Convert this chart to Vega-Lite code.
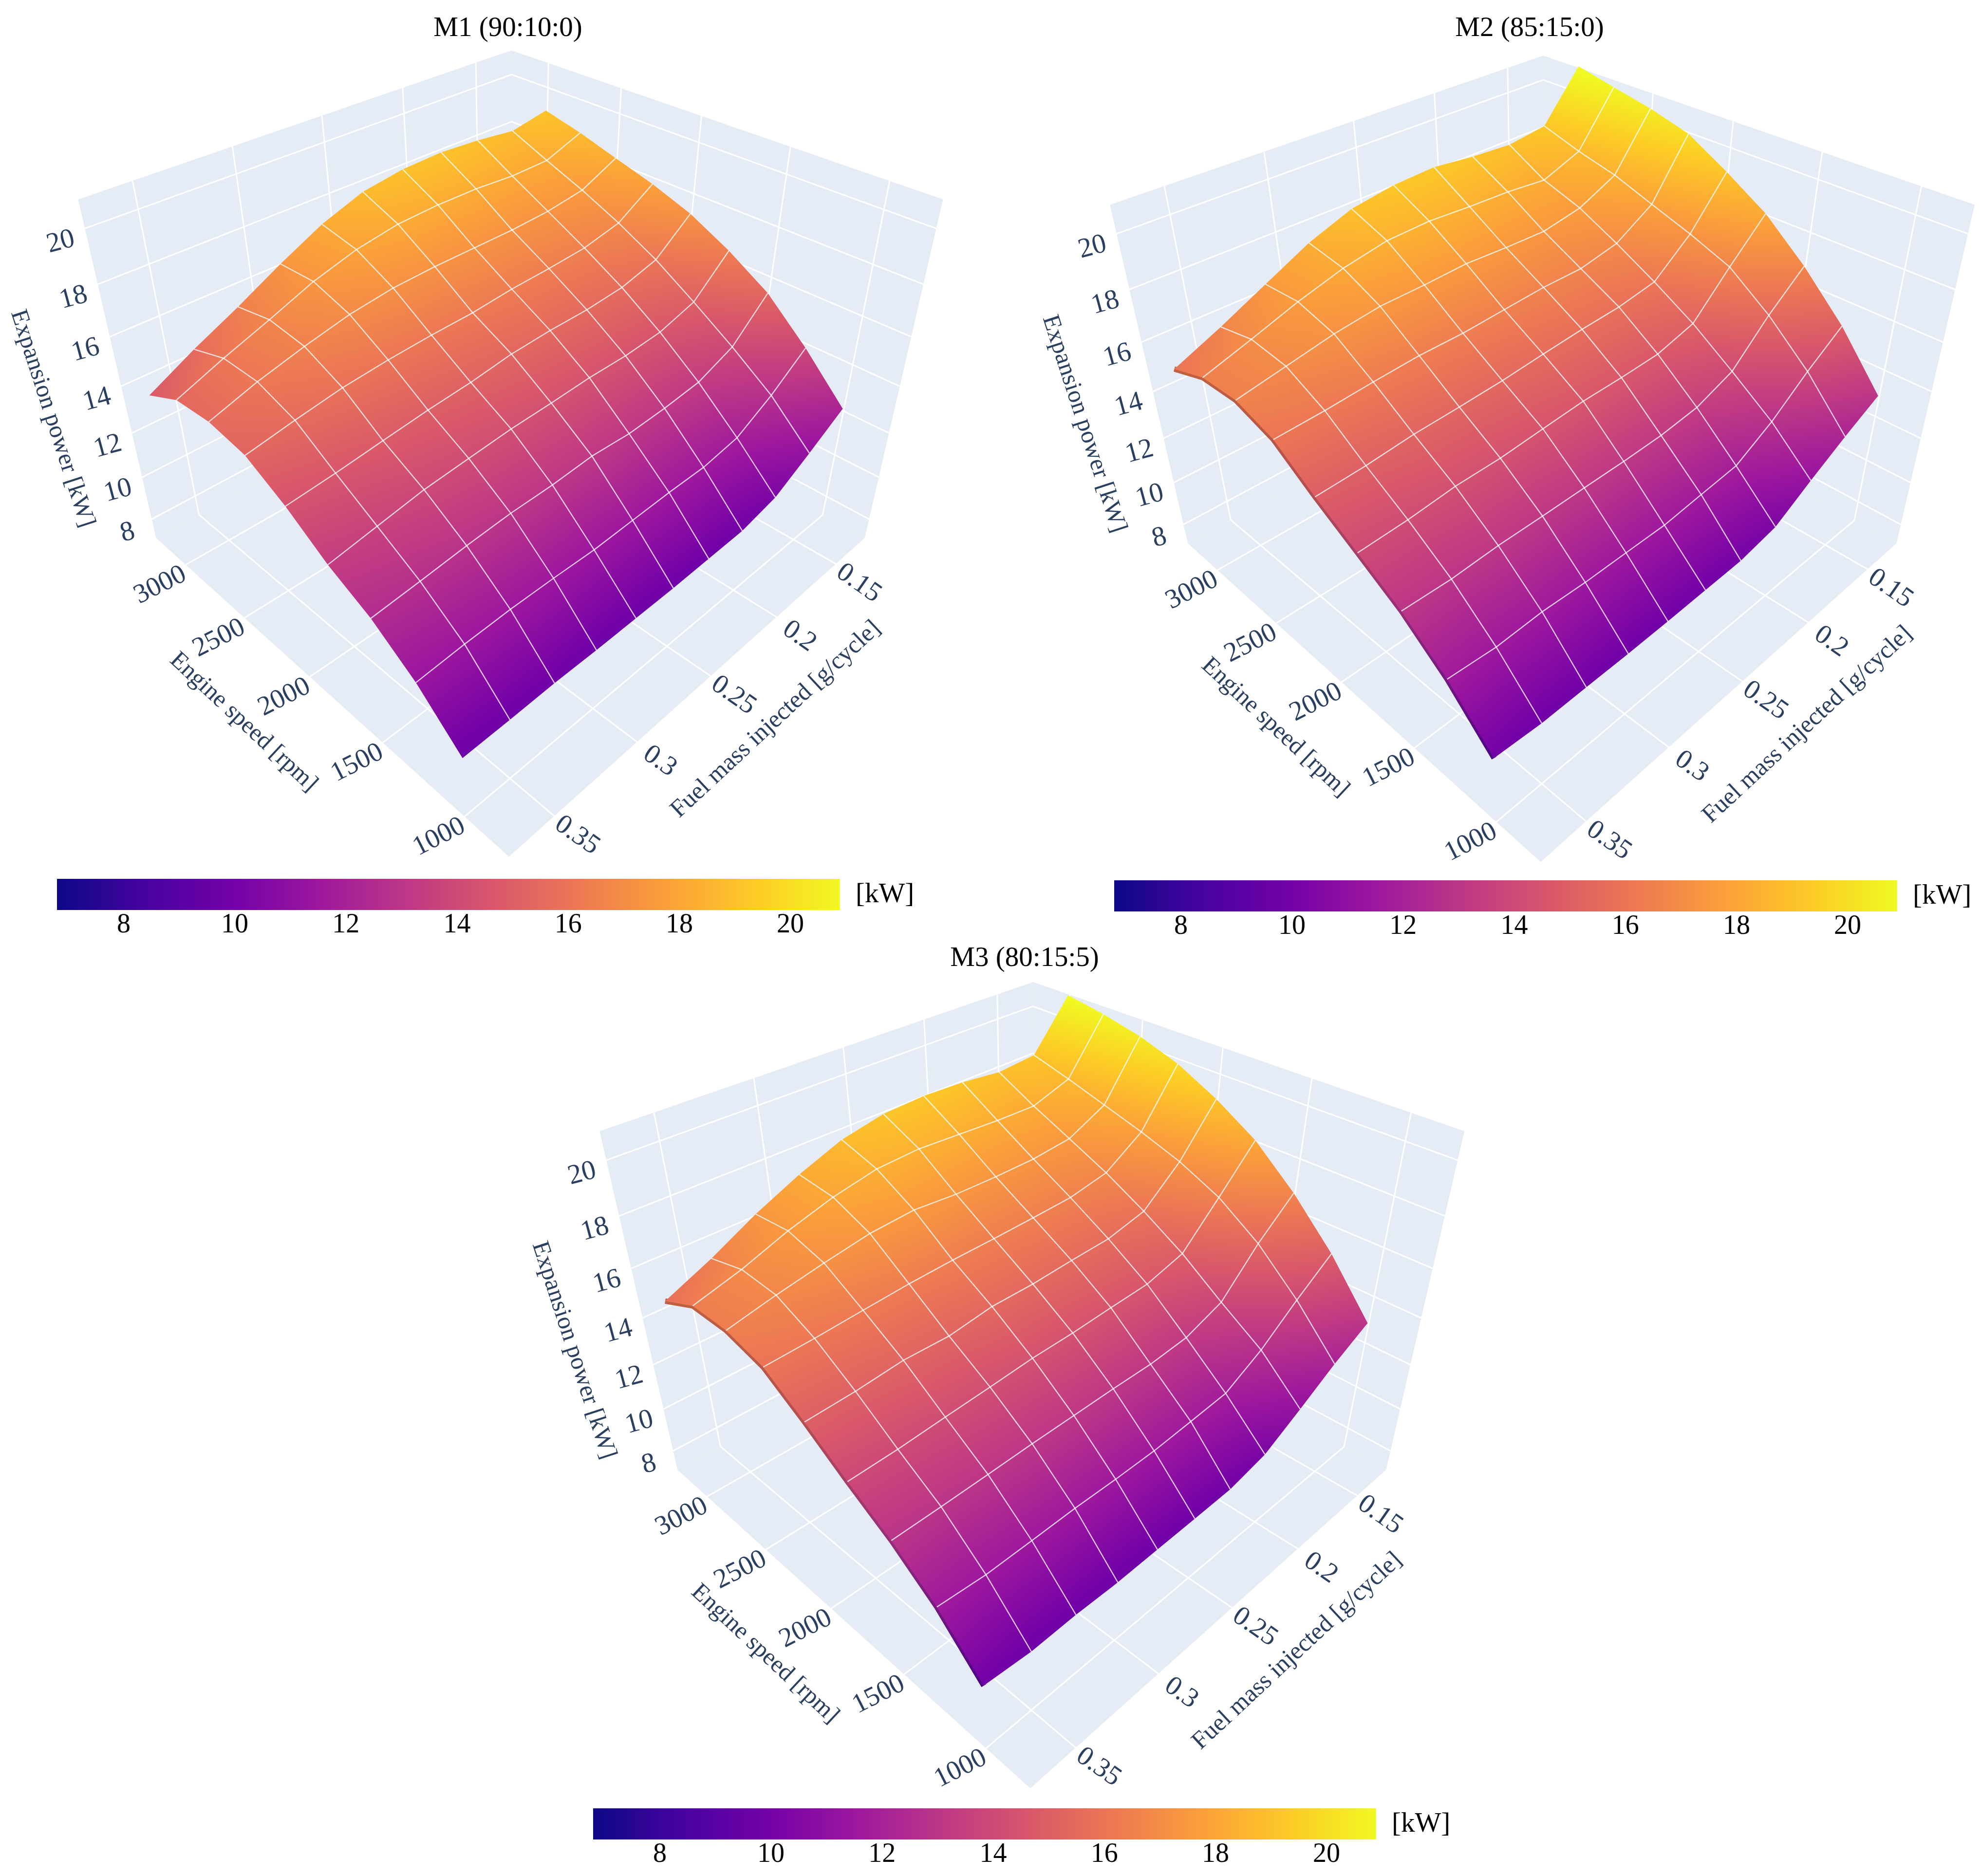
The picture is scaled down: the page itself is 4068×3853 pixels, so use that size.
{"$schema":"https://vega.github.io/schema/vega-lite/v6.json","width":4068,"height":3853,"autosize":{"type":"fit","contains":"padding"},"padding":0,"background":"white","view":{"stroke":null},
"params":[
{"name":"ox","value":{"M1":1046.3,"M2":3165,"M3":2117}},
{"name":"oy","value":{"M1":0,"M2":10.9,"M3":1913.6}},
{"name":"cb0","value":{"M1":117,"M2":2288,"M3":1218}},
{"name":"cby","value":{"M1":1805,"M2":1808,"M3":3714}},
{"name":"tx","value":{"M1":1043,"M2":3141,"M3":2104}},
{"name":"ty","value":{"M1":57,"M2":57,"M3":1967}},
{"name":"plasma","value":[{"offset":0,"color":"#0d0887"},{"offset":0.1111,"color":"#46039f"},{"offset":0.2222,"color":"#7201a8"},{"offset":0.3333,"color":"#9c179e"},{"offset":0.4444,"color":"#bd3786"},{"offset":0.5556,"color":"#d8576b"},{"offset":0.6667,"color":"#ed7953"},{"offset":0.7778,"color":"#fb9f3a"},{"offset":0.8889,"color":"#fdca26"},{"offset":1,"color":"#f0f921"}]}
],
"data":{"values":[
{"kind":"wall","face":"floor","k":0,"fuel":0.375,"rpm":753,"power":7.064},{"kind":"wall","face":"floor","k":1,"fuel":0.12375,"rpm":753,"power":7.064},{"kind":"wall","face":"floor","k":2,"fuel":0.12375,"rpm":3272,"power":7.064},{"kind":"wall","face":"floor","k":3,"fuel":0.375,"rpm":3272,"power":7.064},
{"kind":"wall","face":"left","k":0,"fuel":0.375,"rpm":3272,"power":7.064},{"kind":"wall","face":"left","k":1,"fuel":0.12375,"rpm":3272,"power":7.064},{"kind":"wall","face":"left","k":2,"fuel":0.12375,"rpm":3272,"power":20.994},{"kind":"wall","face":"left","k":3,"fuel":0.375,"rpm":3272,"power":20.994},
{"kind":"wall","face":"right","k":0,"fuel":0.12375,"rpm":753,"power":7.064},{"kind":"wall","face":"right","k":1,"fuel":0.12375,"rpm":3272,"power":7.064},{"kind":"wall","face":"right","k":2,"fuel":0.12375,"rpm":3272,"power":20.994},{"kind":"wall","face":"right","k":3,"fuel":0.12375,"rpm":753,"power":20.994},
{"kind":"grid","face":"z8","k":0,"fuel":0.375,"rpm":3272,"power":8},{"kind":"grid","face":"z8","k":1,"fuel":0.12375,"rpm":3272,"power":8},{"kind":"grid","face":"z8","k":2,"fuel":0.12375,"rpm":753,"power":8},
{"kind":"grid","face":"z10","k":0,"fuel":0.375,"rpm":3272,"power":10},{"kind":"grid","face":"z10","k":1,"fuel":0.12375,"rpm":3272,"power":10},{"kind":"grid","face":"z10","k":2,"fuel":0.12375,"rpm":753,"power":10},
{"kind":"grid","face":"z12","k":0,"fuel":0.375,"rpm":3272,"power":12},{"kind":"grid","face":"z12","k":1,"fuel":0.12375,"rpm":3272,"power":12},{"kind":"grid","face":"z12","k":2,"fuel":0.12375,"rpm":753,"power":12},
{"kind":"grid","face":"z14","k":0,"fuel":0.375,"rpm":3272,"power":14},{"kind":"grid","face":"z14","k":1,"fuel":0.12375,"rpm":3272,"power":14},{"kind":"grid","face":"z14","k":2,"fuel":0.12375,"rpm":753,"power":14},
{"kind":"grid","face":"z16","k":0,"fuel":0.375,"rpm":3272,"power":16},{"kind":"grid","face":"z16","k":1,"fuel":0.12375,"rpm":3272,"power":16},{"kind":"grid","face":"z16","k":2,"fuel":0.12375,"rpm":753,"power":16},
{"kind":"grid","face":"z18","k":0,"fuel":0.375,"rpm":3272,"power":18},{"kind":"grid","face":"z18","k":1,"fuel":0.12375,"rpm":3272,"power":18},{"kind":"grid","face":"z18","k":2,"fuel":0.12375,"rpm":753,"power":18},
{"kind":"grid","face":"z20","k":0,"fuel":0.375,"rpm":3272,"power":20},{"kind":"grid","face":"z20","k":1,"fuel":0.12375,"rpm":3272,"power":20},{"kind":"grid","face":"z20","k":2,"fuel":0.12375,"rpm":753,"power":20},
{"kind":"grid","face":"r1000","k":0,"fuel":0.375,"rpm":1000,"power":7.064},{"kind":"grid","face":"r1000","k":1,"fuel":0.12375,"rpm":1000,"power":7.064},{"kind":"grid","face":"r1000","k":2,"fuel":0.12375,"rpm":1000,"power":20.994},
{"kind":"grid","face":"r1500","k":0,"fuel":0.375,"rpm":1500,"power":7.064},{"kind":"grid","face":"r1500","k":1,"fuel":0.12375,"rpm":1500,"power":7.064},{"kind":"grid","face":"r1500","k":2,"fuel":0.12375,"rpm":1500,"power":20.994},
{"kind":"grid","face":"r2000","k":0,"fuel":0.375,"rpm":2000,"power":7.064},{"kind":"grid","face":"r2000","k":1,"fuel":0.12375,"rpm":2000,"power":7.064},{"kind":"grid","face":"r2000","k":2,"fuel":0.12375,"rpm":2000,"power":20.994},
{"kind":"grid","face":"r2500","k":0,"fuel":0.375,"rpm":2500,"power":7.064},{"kind":"grid","face":"r2500","k":1,"fuel":0.12375,"rpm":2500,"power":7.064},{"kind":"grid","face":"r2500","k":2,"fuel":0.12375,"rpm":2500,"power":20.994},
{"kind":"grid","face":"r3000","k":0,"fuel":0.375,"rpm":3000,"power":7.064},{"kind":"grid","face":"r3000","k":1,"fuel":0.12375,"rpm":3000,"power":7.064},{"kind":"grid","face":"r3000","k":2,"fuel":0.12375,"rpm":3000,"power":20.994},
{"kind":"grid","face":"f15","k":0,"fuel":0.15,"rpm":753,"power":7.064},{"kind":"grid","face":"f15","k":1,"fuel":0.15,"rpm":3272,"power":7.064},{"kind":"grid","face":"f15","k":2,"fuel":0.15,"rpm":3272,"power":20.994},
{"kind":"grid","face":"f20","k":0,"fuel":0.2,"rpm":753,"power":7.064},{"kind":"grid","face":"f20","k":1,"fuel":0.2,"rpm":3272,"power":7.064},{"kind":"grid","face":"f20","k":2,"fuel":0.2,"rpm":3272,"power":20.994},
{"kind":"grid","face":"f25","k":0,"fuel":0.25,"rpm":753,"power":7.064},{"kind":"grid","face":"f25","k":1,"fuel":0.25,"rpm":3272,"power":7.064},{"kind":"grid","face":"f25","k":2,"fuel":0.25,"rpm":3272,"power":20.994},
{"kind":"grid","face":"f30","k":0,"fuel":0.3,"rpm":753,"power":7.064},{"kind":"grid","face":"f30","k":1,"fuel":0.3,"rpm":3272,"power":7.064},{"kind":"grid","face":"f30","k":2,"fuel":0.3,"rpm":3272,"power":20.994},
{"kind":"grid","face":"f35","k":0,"fuel":0.35,"rpm":753,"power":7.064},{"kind":"grid","face":"f35","k":1,"fuel":0.35,"rpm":3272,"power":7.064},{"kind":"grid","face":"f35","k":2,"fuel":0.35,"rpm":3272,"power":20.994},
{"kind":"tr","label":"1000","rpm":1000,"fuel":0.375,"power":7.064},{"kind":"tr","label":"1500","rpm":1500,"fuel":0.375,"power":7.064},{"kind":"tr","label":"2000","rpm":2000,"fuel":0.375,"power":7.064},{"kind":"tr","label":"2500","rpm":2500,"fuel":0.375,"power":7.064},{"kind":"tr","label":"3000","rpm":3000,"fuel":0.375,"power":7.064},
{"kind":"tf","label":"0.15","fuel":0.15,"rpm":753,"power":7.064},{"kind":"tf","label":"0.2","fuel":0.2,"rpm":753,"power":7.064},{"kind":"tf","label":"0.25","fuel":0.25,"rpm":753,"power":7.064},{"kind":"tf","label":"0.3","fuel":0.3,"rpm":753,"power":7.064},{"kind":"tf","label":"0.35","fuel":0.35,"rpm":753,"power":7.064},
{"kind":"tz","label":"8","power":8,"fuel":0.375,"rpm":3272},{"kind":"tz","label":"10","power":10,"fuel":0.375,"rpm":3272},{"kind":"tz","label":"12","power":12,"fuel":0.375,"rpm":3272},{"kind":"tz","label":"14","power":14,"fuel":0.375,"rpm":3272},{"kind":"tz","label":"16","power":16,"fuel":0.375,"rpm":3272},{"kind":"tz","label":"18","power":18,"fuel":0.375,"rpm":3272},{"kind":"tz","label":"20","power":20,"fuel":0.375,"rpm":3272},
{"kind":"ar","label":"Engine speed [rpm]","rpm":2000,"fuel":0.375,"power":7.064},
{"kind":"af","label":"Fuel mass injected [g/cycle]","fuel":0.25,"rpm":753,"power":7.064},
{"kind":"az","label":"Expansion power [kW]","power":14,"fuel":0.375,"rpm":3272},
{"kind":"title","m":"M1","label":"M1 (90:10:0)"},{"kind":"title","m":"M2","label":"M2 (85:15:0)"},{"kind":"title","m":"M3","label":"M3 (80:15:5)"},
{"kind":"cbar","low":6.8,"high":20.89},
{"kind":"cbt","power":8,"label":"8"},{"kind":"cbt","power":10,"label":"10"},{"kind":"cbt","power":12,"label":"12"},{"kind":"cbt","power":14,"label":"14"},{"kind":"cbt","power":16,"label":"16"},{"kind":"cbt","power":18,"label":"18"},{"kind":"cbt","power":20,"label":"20"},
{"kind":"unit","label":"[kW]"},
{"m":"M1","rpm":1000,"fuel":0.375,"power":9.74},{"m":"M1","rpm":1000,"fuel":0.35,"power":9.75},{"m":"M1","rpm":1000,"fuel":0.325,"power":9.79},{"m":"M1","rpm":1000,"fuel":0.3,"power":9.76},{"m":"M1","rpm":1000,"fuel":0.275,"power":9.77},{"m":"M1","rpm":1000,"fuel":0.25,"power":9.78},{"m":"M1","rpm":1000,"fuel":0.225,"power":9.83},{"m":"M1","rpm":1000,"fuel":0.2,"power":9.88},{"m":"M1","rpm":1000,"fuel":0.175,"power":10.25},{"m":"M1","rpm":1000,"fuel":0.15,"power":11.17},{"m":"M1","rpm":1000,"fuel":0.125,"power":12.15},
{"m":"M1","rpm":1250,"fuel":0.375,"power":11.34},{"m":"M1","rpm":1250,"fuel":0.35,"power":11.46},{"m":"M1","rpm":1250,"fuel":0.325,"power":11.52},{"m":"M1","rpm":1250,"fuel":0.3,"power":11.51},{"m":"M1","rpm":1250,"fuel":0.275,"power":11.46},{"m":"M1","rpm":1250,"fuel":0.25,"power":11.53},{"m":"M1","rpm":1250,"fuel":0.225,"power":11.59},{"m":"M1","rpm":1250,"fuel":0.2,"power":11.6},{"m":"M1","rpm":1250,"fuel":0.175,"power":11.86},{"m":"M1","rpm":1250,"fuel":0.15,"power":12.74},{"m":"M1","rpm":1250,"fuel":0.125,"power":13.88},
{"m":"M1","rpm":1500,"fuel":0.375,"power":12.52},{"m":"M1","rpm":1500,"fuel":0.35,"power":12.68},{"m":"M1","rpm":1500,"fuel":0.325,"power":12.86},{"m":"M1","rpm":1500,"fuel":0.3,"power":12.99},{"m":"M1","rpm":1500,"fuel":0.275,"power":13.02},{"m":"M1","rpm":1500,"fuel":0.25,"power":13.14},{"m":"M1","rpm":1500,"fuel":0.225,"power":13.05},{"m":"M1","rpm":1500,"fuel":0.2,"power":13.14},{"m":"M1","rpm":1500,"fuel":0.175,"power":13.31},{"m":"M1","rpm":1500,"fuel":0.15,"power":13.93},{"m":"M1","rpm":1500,"fuel":0.125,"power":15.38},
{"m":"M1","rpm":1750,"fuel":0.375,"power":13.34},{"m":"M1","rpm":1750,"fuel":0.35,"power":13.64},{"m":"M1","rpm":1750,"fuel":0.325,"power":13.94},{"m":"M1","rpm":1750,"fuel":0.3,"power":14.1},{"m":"M1","rpm":1750,"fuel":0.275,"power":14.25},{"m":"M1","rpm":1750,"fuel":0.25,"power":14.32},{"m":"M1","rpm":1750,"fuel":0.225,"power":14.42},{"m":"M1","rpm":1750,"fuel":0.2,"power":14.43},{"m":"M1","rpm":1750,"fuel":0.175,"power":14.56},{"m":"M1","rpm":1750,"fuel":0.15,"power":15.01},{"m":"M1","rpm":1750,"fuel":0.125,"power":16.39},
{"m":"M1","rpm":2000,"fuel":0.375,"power":14.42},{"m":"M1","rpm":2000,"fuel":0.35,"power":14.59},{"m":"M1","rpm":2000,"fuel":0.325,"power":14.8},{"m":"M1","rpm":2000,"fuel":0.3,"power":15},{"m":"M1","rpm":2000,"fuel":0.275,"power":15.15},{"m":"M1","rpm":2000,"fuel":0.25,"power":15.38},{"m":"M1","rpm":2000,"fuel":0.225,"power":15.47},{"m":"M1","rpm":2000,"fuel":0.2,"power":15.49},{"m":"M1","rpm":2000,"fuel":0.175,"power":15.62},{"m":"M1","rpm":2000,"fuel":0.15,"power":16.02},{"m":"M1","rpm":2000,"fuel":0.125,"power":17.22},
{"m":"M1","rpm":2250,"fuel":0.375,"power":15.27},{"m":"M1","rpm":2250,"fuel":0.35,"power":15.59},{"m":"M1","rpm":2250,"fuel":0.325,"power":15.87},{"m":"M1","rpm":2250,"fuel":0.3,"power":16.03},{"m":"M1","rpm":2250,"fuel":0.275,"power":16.13},{"m":"M1","rpm":2250,"fuel":0.25,"power":16.18},{"m":"M1","rpm":2250,"fuel":0.225,"power":16.33},{"m":"M1","rpm":2250,"fuel":0.2,"power":16.4},{"m":"M1","rpm":2250,"fuel":0.175,"power":16.51},{"m":"M1","rpm":2250,"fuel":0.15,"power":16.84},{"m":"M1","rpm":2250,"fuel":0.125,"power":17.79},
{"m":"M1","rpm":2500,"fuel":0.375,"power":15.53},{"m":"M1","rpm":2500,"fuel":0.35,"power":16.1},{"m":"M1","rpm":2500,"fuel":0.325,"power":16.55},{"m":"M1","rpm":2500,"fuel":0.3,"power":16.93},{"m":"M1","rpm":2500,"fuel":0.275,"power":17.15},{"m":"M1","rpm":2500,"fuel":0.25,"power":17.22},{"m":"M1","rpm":2500,"fuel":0.225,"power":17.23},{"m":"M1","rpm":2500,"fuel":0.2,"power":17.24},{"m":"M1","rpm":2500,"fuel":0.175,"power":17.32},{"m":"M1","rpm":2500,"fuel":0.15,"power":17.54},{"m":"M1","rpm":2500,"fuel":0.125,"power":18.24},
{"m":"M1","rpm":2750,"fuel":0.375,"power":15.4},{"m":"M1","rpm":2750,"fuel":0.35,"power":16.1},{"m":"M1","rpm":2750,"fuel":0.325,"power":16.73},{"m":"M1","rpm":2750,"fuel":0.3,"power":17.4},{"m":"M1","rpm":2750,"fuel":0.275,"power":17.88},{"m":"M1","rpm":2750,"fuel":0.25,"power":18.16},{"m":"M1","rpm":2750,"fuel":0.225,"power":18.24},{"m":"M1","rpm":2750,"fuel":0.2,"power":18.23},{"m":"M1","rpm":2750,"fuel":0.175,"power":18.12},{"m":"M1","rpm":2750,"fuel":0.15,"power":18.15},{"m":"M1","rpm":2750,"fuel":0.125,"power":18.71},
{"m":"M1","rpm":3000,"fuel":0.375,"power":14.64},{"m":"M1","rpm":3000,"fuel":0.35,"power":15.58},{"m":"M1","rpm":3000,"fuel":0.325,"power":16.42},{"m":"M1","rpm":3000,"fuel":0.3,"power":17.33},{"m":"M1","rpm":3000,"fuel":0.275,"power":18.16},{"m":"M1","rpm":3000,"fuel":0.25,"power":18.75},{"m":"M1","rpm":3000,"fuel":0.225,"power":19},{"m":"M1","rpm":3000,"fuel":0.2,"power":19.07},{"m":"M1","rpm":3000,"fuel":0.175,"power":18.97},{"m":"M1","rpm":3000,"fuel":0.15,"power":18.79},{"m":"M1","rpm":3000,"fuel":0.125,"power":19.09},
{"m":"M2","rpm":1000,"fuel":0.375,"power":9.97},{"m":"M2","rpm":1000,"fuel":0.35,"power":9.83},{"m":"M2","rpm":1000,"fuel":0.325,"power":9.84},{"m":"M2","rpm":1000,"fuel":0.3,"power":9.84},{"m":"M2","rpm":1000,"fuel":0.275,"power":9.87},{"m":"M2","rpm":1000,"fuel":0.25,"power":9.93},{"m":"M2","rpm":1000,"fuel":0.225,"power":9.98},{"m":"M2","rpm":1000,"fuel":0.2,"power":10.3},{"m":"M2","rpm":1000,"fuel":0.175,"power":11.25},{"m":"M2","rpm":1000,"fuel":0.15,"power":12.14},{"m":"M2","rpm":1000,"fuel":0.125,"power":12.95},
{"m":"M2","rpm":1250,"fuel":0.375,"power":11.7},{"m":"M2","rpm":1250,"fuel":0.35,"power":11.56},{"m":"M2","rpm":1250,"fuel":0.325,"power":11.64},{"m":"M2","rpm":1250,"fuel":0.3,"power":11.56},{"m":"M2","rpm":1250,"fuel":0.275,"power":11.56},{"m":"M2","rpm":1250,"fuel":0.25,"power":11.55},{"m":"M2","rpm":1250,"fuel":0.225,"power":11.73},{"m":"M2","rpm":1250,"fuel":0.2,"power":11.9},{"m":"M2","rpm":1250,"fuel":0.175,"power":12.79},{"m":"M2","rpm":1250,"fuel":0.15,"power":13.99},{"m":"M2","rpm":1250,"fuel":0.125,"power":15.03},
{"m":"M2","rpm":1500,"fuel":0.375,"power":13.02},{"m":"M2","rpm":1500,"fuel":0.35,"power":12.98},{"m":"M2","rpm":1500,"fuel":0.325,"power":13.08},{"m":"M2","rpm":1500,"fuel":0.3,"power":13.09},{"m":"M2","rpm":1500,"fuel":0.275,"power":13.12},{"m":"M2","rpm":1500,"fuel":0.25,"power":13.14},{"m":"M2","rpm":1500,"fuel":0.225,"power":13.2},{"m":"M2","rpm":1500,"fuel":0.2,"power":13.4},{"m":"M2","rpm":1500,"fuel":0.175,"power":14},{"m":"M2","rpm":1500,"fuel":0.15,"power":15.48},{"m":"M2","rpm":1500,"fuel":0.125,"power":16.7},
{"m":"M2","rpm":1750,"fuel":0.375,"power":14.01},{"m":"M2","rpm":1750,"fuel":0.35,"power":14.1},{"m":"M2","rpm":1750,"fuel":0.325,"power":14.28},{"m":"M2","rpm":1750,"fuel":0.3,"power":14.32},{"m":"M2","rpm":1750,"fuel":0.275,"power":14.47},{"m":"M2","rpm":1750,"fuel":0.25,"power":14.61},{"m":"M2","rpm":1750,"fuel":0.225,"power":14.64},{"m":"M2","rpm":1750,"fuel":0.2,"power":14.72},{"m":"M2","rpm":1750,"fuel":0.175,"power":15.14},{"m":"M2","rpm":1750,"fuel":0.15,"power":16.67},{"m":"M2","rpm":1750,"fuel":0.125,"power":18.1},
{"m":"M2","rpm":2000,"fuel":0.375,"power":14.98},{"m":"M2","rpm":2000,"fuel":0.35,"power":15.08},{"m":"M2","rpm":2000,"fuel":0.325,"power":15.25},{"m":"M2","rpm":2000,"fuel":0.3,"power":15.33},{"m":"M2","rpm":2000,"fuel":0.275,"power":15.43},{"m":"M2","rpm":2000,"fuel":0.25,"power":15.59},{"m":"M2","rpm":2000,"fuel":0.225,"power":15.73},{"m":"M2","rpm":2000,"fuel":0.2,"power":15.82},{"m":"M2","rpm":2000,"fuel":0.175,"power":16.07},{"m":"M2","rpm":2000,"fuel":0.15,"power":17.29},{"m":"M2","rpm":2000,"fuel":0.125,"power":19.1},
{"m":"M2","rpm":2250,"fuel":0.375,"power":16.06},{"m":"M2","rpm":2250,"fuel":0.35,"power":16.15},{"m":"M2","rpm":2250,"fuel":0.325,"power":16.29},{"m":"M2","rpm":2250,"fuel":0.3,"power":16.4},{"m":"M2","rpm":2250,"fuel":0.275,"power":16.41},{"m":"M2","rpm":2250,"fuel":0.25,"power":16.51},{"m":"M2","rpm":2250,"fuel":0.225,"power":16.61},{"m":"M2","rpm":2250,"fuel":0.2,"power":16.61},{"m":"M2","rpm":2250,"fuel":0.175,"power":16.91},{"m":"M2","rpm":2250,"fuel":0.15,"power":17.82},{"m":"M2","rpm":2250,"fuel":0.125,"power":20},
{"m":"M2","rpm":2500,"fuel":0.375,"power":16.54},{"m":"M2","rpm":2500,"fuel":0.35,"power":16.88},{"m":"M2","rpm":2500,"fuel":0.325,"power":17.22},{"m":"M2","rpm":2500,"fuel":0.3,"power":17.44},{"m":"M2","rpm":2500,"fuel":0.275,"power":17.47},{"m":"M2","rpm":2500,"fuel":0.25,"power":17.54},{"m":"M2","rpm":2500,"fuel":0.225,"power":17.45},{"m":"M2","rpm":2500,"fuel":0.2,"power":17.4},{"m":"M2","rpm":2500,"fuel":0.175,"power":17.67},{"m":"M2","rpm":2500,"fuel":0.15,"power":18.37},{"m":"M2","rpm":2500,"fuel":0.125,"power":20.44},
{"m":"M2","rpm":2750,"fuel":0.375,"power":16.46},{"m":"M2","rpm":2750,"fuel":0.35,"power":17.02},{"m":"M2","rpm":2750,"fuel":0.325,"power":17.61},{"m":"M2","rpm":2750,"fuel":0.3,"power":18.1},{"m":"M2","rpm":2750,"fuel":0.275,"power":18.42},{"m":"M2","rpm":2750,"fuel":0.25,"power":18.48},{"m":"M2","rpm":2750,"fuel":0.225,"power":18.38},{"m":"M2","rpm":2750,"fuel":0.2,"power":18.32},{"m":"M2","rpm":2750,"fuel":0.175,"power":18.17},{"m":"M2","rpm":2750,"fuel":0.15,"power":18.74},{"m":"M2","rpm":2750,"fuel":0.125,"power":20.76},
{"m":"M2","rpm":3000,"fuel":0.375,"power":15.89},{"m":"M2","rpm":3000,"fuel":0.35,"power":16.66},{"m":"M2","rpm":3000,"fuel":0.325,"power":17.5},{"m":"M2","rpm":3000,"fuel":0.3,"power":18.34},{"m":"M2","rpm":3000,"fuel":0.275,"power":18.95},{"m":"M2","rpm":3000,"fuel":0.25,"power":19.21},{"m":"M2","rpm":3000,"fuel":0.225,"power":19.29},{"m":"M2","rpm":3000,"fuel":0.2,"power":19.11},{"m":"M2","rpm":3000,"fuel":0.175,"power":19.01},{"m":"M2","rpm":3000,"fuel":0.15,"power":19.21},{"m":"M2","rpm":3000,"fuel":0.125,"power":21.1},
{"m":"M3","rpm":1000,"fuel":0.375,"power":9.92},{"m":"M3","rpm":1000,"fuel":0.35,"power":9.75},{"m":"M3","rpm":1000,"fuel":0.325,"power":9.79},{"m":"M3","rpm":1000,"fuel":0.3,"power":9.74},{"m":"M3","rpm":1000,"fuel":0.275,"power":9.79},{"m":"M3","rpm":1000,"fuel":0.25,"power":9.83},{"m":"M3","rpm":1000,"fuel":0.225,"power":9.88},{"m":"M3","rpm":1000,"fuel":0.2,"power":10.25},{"m":"M3","rpm":1000,"fuel":0.175,"power":11.15},{"m":"M3","rpm":1000,"fuel":0.15,"power":12.1},{"m":"M3","rpm":1000,"fuel":0.125,"power":12.91},
{"m":"M3","rpm":1250,"fuel":0.375,"power":11.64},{"m":"M3","rpm":1250,"fuel":0.35,"power":11.51},{"m":"M3","rpm":1250,"fuel":0.325,"power":11.54},{"m":"M3","rpm":1250,"fuel":0.3,"power":11.58},{"m":"M3","rpm":1250,"fuel":0.275,"power":11.56},{"m":"M3","rpm":1250,"fuel":0.25,"power":11.58},{"m":"M3","rpm":1250,"fuel":0.225,"power":11.71},{"m":"M3","rpm":1250,"fuel":0.2,"power":11.85},{"m":"M3","rpm":1250,"fuel":0.175,"power":12.71},{"m":"M3","rpm":1250,"fuel":0.15,"power":13.9},{"m":"M3","rpm":1250,"fuel":0.125,"power":14.98},
{"m":"M3","rpm":1500,"fuel":0.375,"power":12.9},{"m":"M3","rpm":1500,"fuel":0.35,"power":12.93},{"m":"M3","rpm":1500,"fuel":0.325,"power":12.98},{"m":"M3","rpm":1500,"fuel":0.3,"power":13.04},{"m":"M3","rpm":1500,"fuel":0.275,"power":13.07},{"m":"M3","rpm":1500,"fuel":0.25,"power":13.1},{"m":"M3","rpm":1500,"fuel":0.225,"power":13.1},{"m":"M3","rpm":1500,"fuel":0.2,"power":13.24},{"m":"M3","rpm":1500,"fuel":0.175,"power":13.81},{"m":"M3","rpm":1500,"fuel":0.15,"power":15.4},{"m":"M3","rpm":1500,"fuel":0.125,"power":16.68},
{"m":"M3","rpm":1750,"fuel":0.375,"power":13.92},{"m":"M3","rpm":1750,"fuel":0.35,"power":13.98},{"m":"M3","rpm":1750,"fuel":0.325,"power":14.11},{"m":"M3","rpm":1750,"fuel":0.3,"power":14.22},{"m":"M3","rpm":1750,"fuel":0.275,"power":14.35},{"m":"M3","rpm":1750,"fuel":0.25,"power":14.39},{"m":"M3","rpm":1750,"fuel":0.225,"power":14.49},{"m":"M3","rpm":1750,"fuel":0.2,"power":14.57},{"m":"M3","rpm":1750,"fuel":0.175,"power":14.99},{"m":"M3","rpm":1750,"fuel":0.15,"power":16.51},{"m":"M3","rpm":1750,"fuel":0.125,"power":18.09},
{"m":"M3","rpm":2000,"fuel":0.375,"power":15.03},{"m":"M3","rpm":2000,"fuel":0.35,"power":15.11},{"m":"M3","rpm":2000,"fuel":0.325,"power":15.27},{"m":"M3","rpm":2000,"fuel":0.3,"power":15.23},{"m":"M3","rpm":2000,"fuel":0.275,"power":15.45},{"m":"M3","rpm":2000,"fuel":0.25,"power":15.45},{"m":"M3","rpm":2000,"fuel":0.225,"power":15.54},{"m":"M3","rpm":2000,"fuel":0.2,"power":15.6},{"m":"M3","rpm":2000,"fuel":0.175,"power":15.95},{"m":"M3","rpm":2000,"fuel":0.15,"power":17.24},{"m":"M3","rpm":2000,"fuel":0.125,"power":19.07},
{"m":"M3","rpm":2250,"fuel":0.375,"power":16.02},{"m":"M3","rpm":2250,"fuel":0.35,"power":16.1},{"m":"M3","rpm":2250,"fuel":0.325,"power":16.22},{"m":"M3","rpm":2250,"fuel":0.3,"power":16.33},{"m":"M3","rpm":2250,"fuel":0.275,"power":16.39},{"m":"M3","rpm":2250,"fuel":0.25,"power":16.41},{"m":"M3","rpm":2250,"fuel":0.225,"power":16.45},{"m":"M3","rpm":2250,"fuel":0.2,"power":16.51},{"m":"M3","rpm":2250,"fuel":0.175,"power":16.79},{"m":"M3","rpm":2250,"fuel":0.15,"power":17.77},{"m":"M3","rpm":2250,"fuel":0.125,"power":19.86},
{"m":"M3","rpm":2500,"fuel":0.375,"power":16.4},{"m":"M3","rpm":2500,"fuel":0.35,"power":16.79},{"m":"M3","rpm":2500,"fuel":0.325,"power":17.12},{"m":"M3","rpm":2500,"fuel":0.3,"power":17.41},{"m":"M3","rpm":2500,"fuel":0.275,"power":17.52},{"m":"M3","rpm":2500,"fuel":0.25,"power":17.38},{"m":"M3","rpm":2500,"fuel":0.225,"power":17.34},{"m":"M3","rpm":2500,"fuel":0.2,"power":17.35},{"m":"M3","rpm":2500,"fuel":0.175,"power":17.5},{"m":"M3","rpm":2500,"fuel":0.15,"power":18.23},{"m":"M3","rpm":2500,"fuel":0.125,"power":20.38},
{"m":"M3","rpm":2750,"fuel":0.375,"power":16.39},{"m":"M3","rpm":2750,"fuel":0.35,"power":16.88},{"m":"M3","rpm":2750,"fuel":0.325,"power":17.51},{"m":"M3","rpm":2750,"fuel":0.3,"power":18.01},{"m":"M3","rpm":2750,"fuel":0.275,"power":18.35},{"m":"M3","rpm":2750,"fuel":0.25,"power":18.43},{"m":"M3","rpm":2750,"fuel":0.225,"power":18.33},{"m":"M3","rpm":2750,"fuel":0.2,"power":18.23},{"m":"M3","rpm":2750,"fuel":0.175,"power":18.19},{"m":"M3","rpm":2750,"fuel":0.15,"power":18.69},{"m":"M3","rpm":2750,"fuel":0.125,"power":20.74},
{"m":"M3","rpm":3000,"fuel":0.375,"power":15.67},{"m":"M3","rpm":3000,"fuel":0.35,"power":16.46},{"m":"M3","rpm":3000,"fuel":0.325,"power":17.37},{"m":"M3","rpm":3000,"fuel":0.3,"power":18.14},{"m":"M3","rpm":3000,"fuel":0.275,"power":18.78},{"m":"M3","rpm":3000,"fuel":0.25,"power":19.12},{"m":"M3","rpm":3000,"fuel":0.225,"power":19.2},{"m":"M3","rpm":3000,"fuel":0.2,"power":19.14},{"m":"M3","rpm":3000,"fuel":0.175,"power":18.97},{"m":"M3","rpm":3000,"fuel":0.15,"power":19.1},{"m":"M3","rpm":3000,"fuel":0.125,"power":21}
]},
"transform":[
{"calculate":"datum.m ? [datum.m] : ['M1','M2','M3']","as":"ms"},
{"flatten":["ms"]},
{"calculate":"(0.375-datum.fuel)*3.98","as":"a"},
{"calculate":"(datum.rpm-753)/2519","as":"b"},
{"calculate":"(datum.power-7.064)/13.93","as":"c"},
{"calculate":"1+0.322*(datum.a+datum.b)-0.2387*datum.c","as":"w"},
{"calculate":"ox[datum.ms]+((780+1048.3*datum.a-539.4*datum.b-186.4*datum.c)/datum.w-781)*1.2117","as":"x"},
{"calculate":"oy[datum.ms]+(1452-246.3*datum.a-246.3*datum.b-839.5*datum.c)/datum.w*1.2117","as":"y"}
],
"encoding":{
"x":{"field":"x","type":"quantitative","axis":null,"scale":{"domain":[0,4068],"nice":false,"zero":false}},
"y":{"field":"y","type":"quantitative","axis":null,"scale":{"domain":[3853,0],"nice":false,"zero":false}}
},
"layer":[
{"transform":[{"filter":"datum.kind=='wall'"},{"calculate":"datum.ms+datum.face","as":"key"}],
"mark":{"type":"line","filled":true,"fill":"#E5ECF6","strokeOpacity":0,"interpolate":"linear-closed"},
"encoding":{"detail":{"field":"key"},"order":{"field":"k","type":"quantitative"}}},
{"transform":[{"filter":"datum.kind=='grid'"},{"calculate":"datum.ms+datum.face","as":"key"}],
"mark":{"type":"line","stroke":"white","strokeWidth":3,"filled":false},
"encoding":{"detail":{"field":"key"},"order":{"field":"k","type":"quantitative"}}},
{"transform":[{"filter":"!datum.kind&&datum.fuel==0.375&&datum.ms!='M1'"}],
"mark":{"type":"line","filled":false,"strokeWidth":11,"strokeJoin":"round","stroke":{"gradient":"linear","x1":0,"y1":0,"x2":0,"y2":1,"stops":[{"offset":0,"color":"#c0603f"},{"offset":0.3,"color":"#b5504f"},{"offset":0.6,"color":"#9a3078"},{"offset":1,"color":"#4f0088"}]}},
"encoding":{"detail":{"field":"ms"},"order":{"field":"rpm","type":"quantitative"}}},
{"transform":[{"filter":"!datum.kind"},
{"calculate":"round((datum.rpm-1000)/250)","as":"i"},
{"calculate":"round((0.375-datum.fuel)/0.025)","as":"j"},
{"calculate":"[0,1,2,3]","as":"corner"},{"flatten":["corner"]},
{"calculate":"datum.i-((datum.corner==1||datum.corner==2)?1:0)","as":"ci"},
{"calculate":"datum.j-((datum.corner==2||datum.corner==3)?1:0)","as":"cj"},
{"filter":"datum.ci>=0&&datum.ci<8&&datum.cj>=0&&datum.cj<10"},
{"calculate":"datum.ms+'_'+datum.ci+'_'+datum.cj","as":"cell"},
{"joinaggregate":[{"op":"min","field":"x","as":"x0"},{"op":"max","field":"x","as":"x1"},{"op":"min","field":"y","as":"y0"},{"op":"max","field":"y","as":"y1"}],"groupby":["cell"]},
{"calculate":"(datum.x-datum.x0)/(datum.x1-datum.x0)","as":"nx"},
{"calculate":"(datum.y-datum.y0)/(datum.y1-datum.y0)","as":"ny"},
{"calculate":"datum.corner==2?1:(datum.corner==0?-1:0)","as":"s1"},
{"calculate":"datum.corner==3?1:(datum.corner==1?-1:0)","as":"s2"},
{"calculate":"datum.nx*datum.s1","as":"xs1"},{"calculate":"datum.ny*datum.s1","as":"ys1"},{"calculate":"datum.power*datum.s1","as":"ps1"},
{"calculate":"datum.nx*datum.s2","as":"xs2"},{"calculate":"datum.ny*datum.s2","as":"ys2"},{"calculate":"datum.power*datum.s2","as":"ps2"},
{"joinaggregate":[{"op":"sum","field":"xs1","as":"dx1"},{"op":"sum","field":"ys1","as":"dy1"},{"op":"sum","field":"ps1","as":"dp1"},{"op":"sum","field":"xs2","as":"dx2"},{"op":"sum","field":"ys2","as":"dy2"},{"op":"sum","field":"ps2","as":"dp2"},{"op":"mean","field":"nx","as":"mx"},{"op":"mean","field":"ny","as":"my"},{"op":"mean","field":"power","as":"mp"}],"groupby":["cell"]},
{"calculate":"datum.dx1*datum.dy2-datum.dx2*datum.dy1","as":"det"},
{"calculate":"(datum.dp1*datum.dy2-datum.dp2*datum.dy1)/datum.det","as":"ga"},
{"calculate":"(datum.dx1*datum.dp2-datum.dx2*datum.dp1)/datum.det","as":"gb"},
{"calculate":"max(datum.ga*datum.ga+datum.gb*datum.gb,0.000001)","as":"n2"},
{"calculate":"{gradient:'linear',x1:datum.mx+datum.ga*(6.8-datum.mp)/datum.n2,y1:datum.my+datum.gb*(6.8-datum.mp)/datum.n2,x2:datum.mx+datum.ga*(20.89-datum.mp)/datum.n2,y2:datum.my+datum.gb*(20.89-datum.mp)/datum.n2,stops:plasma}","as":"grad"}
],
"mark":{"type":"line","filled":true,"strokeOpacity":0,"interpolate":"linear-closed"},
"encoding":{"detail":{"field":"cell"},"order":{"field":"corner","type":"quantitative"},"fill":{"field":"grad","type":"nominal","scale":null}}},
{"transform":[{"filter":"!datum.kind&&datum.rpm>1000&&datum.rpm<3000"},{"calculate":"datum.ms+datum.rpm","as":"key"}],
"mark":{"type":"line","stroke":"white","strokeWidth":2.4,"strokeOpacity":0.75,"filled":false},
"encoding":{"detail":{"field":"key"},"order":{"field":"fuel","type":"quantitative"}}},
{"transform":[{"filter":"!datum.kind&&datum.fuel>0.125&&datum.fuel<0.375"},{"calculate":"datum.ms+datum.fuel","as":"key"}],
"mark":{"type":"line","stroke":"white","strokeWidth":2.4,"strokeOpacity":0.75,"filled":false},
"encoding":{"detail":{"field":"key"},"order":{"field":"rpm","type":"quantitative"}}},
{"transform":[{"filter":"datum.kind=='tr'"},{"calculate":"datum.x-53","as":"x"},{"calculate":"datum.y+40","as":"y"}],
"mark":{"type":"text","font":"Liberation Serif","fontSize":56,"color":"#2a3f5f","angle":333,"baseline":"middle","align":"center"},"encoding":{"text":{"field":"label"}}},
{"transform":[{"filter":"datum.kind=='tf'"},{"calculate":"datum.x+48","as":"x"},{"calculate":"datum.y+38","as":"y"}],
"mark":{"type":"text","font":"Liberation Serif","fontSize":56,"color":"#2a3f5f","angle":35,"baseline":"middle","align":"center"},"encoding":{"text":{"field":"label"}}},
{"transform":[{"filter":"datum.kind=='tz'"},{"calculate":"datum.x-50","as":"x"},{"calculate":"datum.y+26","as":"y"}],
"mark":{"type":"text","font":"Liberation Serif","fontSize":57,"color":"#2a3f5f","angle":345,"baseline":"middle","align":"center"},"encoding":{"text":{"field":"label"}}},
{"transform":[{"filter":"datum.kind=='ar'"},{"calculate":"datum.x-135","as":"x"},{"calculate":"datum.y+92","as":"y"}],
"mark":{"type":"text","font":"Liberation Serif","fontSize":50,"color":"#2a3f5f","angle":43,"baseline":"middle","align":"center"},"encoding":{"text":{"field":"label"}}},
{"transform":[{"filter":"datum.kind=='af'"},{"calculate":"datum.x+133","as":"x"},{"calculate":"datum.y+88","as":"y"}],
"mark":{"type":"text","font":"Liberation Serif","fontSize":50.5,"color":"#2a3f5f","angle":317,"baseline":"middle","align":"center"},"encoding":{"text":{"field":"label"}}},
{"transform":[{"filter":"datum.kind=='az'"},{"calculate":"datum.x-140","as":"x"},{"calculate":"datum.y+66","as":"y"}],
"mark":{"type":"text","font":"Liberation Serif","fontSize":50,"color":"#2a3f5f","angle":72,"baseline":"middle","align":"center"},"encoding":{"text":{"field":"label"}}},
{"transform":[{"filter":"datum.kind=='title'"},{"calculate":"tx[datum.ms]","as":"x"},{"calculate":"ty[datum.ms]","as":"y"}],
"mark":{"type":"text","font":"Liberation Serif","fontSize":57,"color":"black","baseline":"middle","align":"center"},"encoding":{"text":{"field":"label"}}},
{"transform":[{"filter":"datum.kind=='cbar'"},{"calculate":"cb0[datum.ms]","as":"x"},{"calculate":"cb0[datum.ms]+(datum.high-datum.low)*114.1","as":"xe"},{"calculate":"cby[datum.ms]","as":"y"},{"calculate":"cby[datum.ms]+64","as":"ye"}],
"mark":{"type":"rect","fill":{"gradient":"linear","x1":0,"x2":1,"y1":0,"y2":0,"stops":[{"offset":0,"color":"#0d0887"},{"offset":0.1111,"color":"#46039f"},{"offset":0.2222,"color":"#7201a8"},{"offset":0.3333,"color":"#9c179e"},{"offset":0.4444,"color":"#bd3786"},{"offset":0.5556,"color":"#d8576b"},{"offset":0.6667,"color":"#ed7953"},{"offset":0.7778,"color":"#fb9f3a"},{"offset":0.8889,"color":"#fdca26"},{"offset":1,"color":"#f0f921"}]}},
"encoding":{"x2":{"field":"xe"},"y2":{"field":"ye"}}},
{"transform":[{"filter":"datum.kind=='cbt'"},{"calculate":"cb0[datum.ms]+(datum.power-6.8)*114.1","as":"x"},{"calculate":"cby[datum.ms]+93","as":"y"}],
"mark":{"type":"text","font":"Liberation Serif","fontSize":56,"color":"black","baseline":"middle","align":"center"},"encoding":{"text":{"field":"label"}}},
{"transform":[{"filter":"datum.kind=='unit'"},{"calculate":"cb0[datum.ms]+1640","as":"x"},{"calculate":"cby[datum.ms]+31","as":"y"}],
"mark":{"type":"text","font":"Liberation Serif","fontSize":57,"color":"black","baseline":"middle","align":"left"},"encoding":{"text":{"field":"label"}}}
]}
